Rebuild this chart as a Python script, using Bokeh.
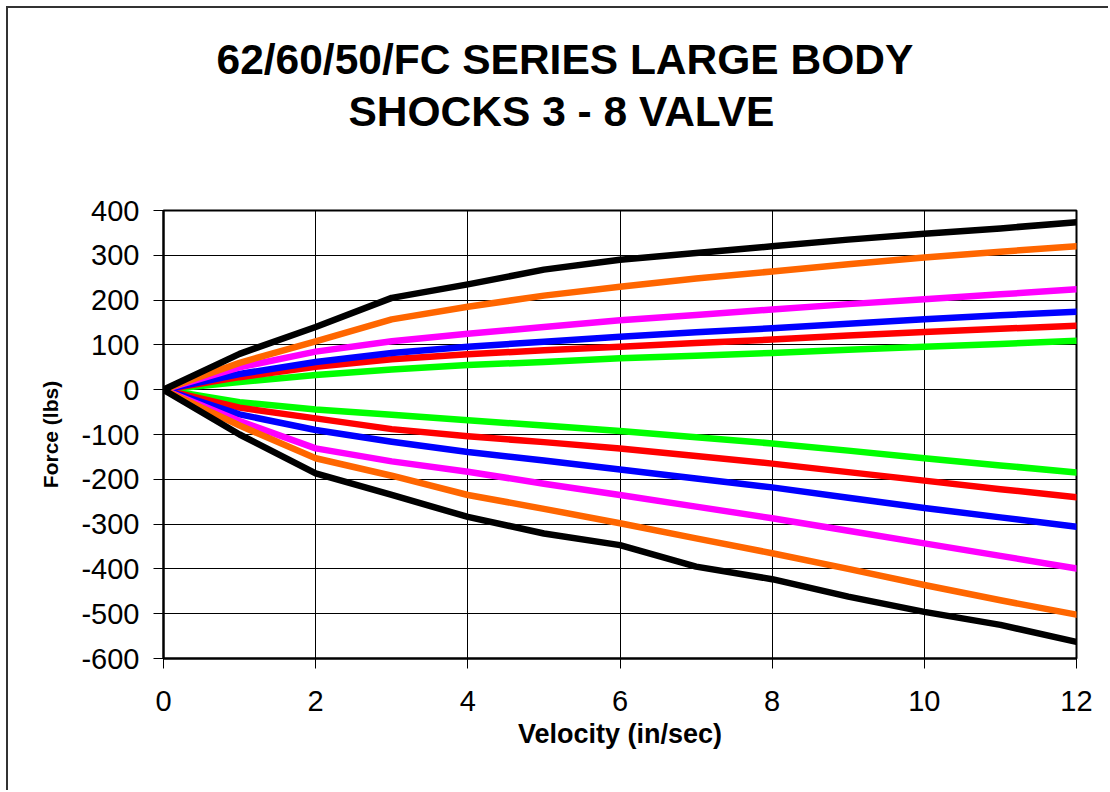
from bokeh.plotting import figure
from bokeh.models import Title, FixedTicker, Range1d
from bokeh.embed import file_html
from bokeh.resources import INLINE

velocity = [0, 1, 2, 3, 4, 5, 6, 7, 8, 9, 10, 11, 12]

# rebound (positive) curves
black_pos = [0, 80, 140, 205, 235, 268, 290, 305, 320, 335, 348, 360, 374]
orange_pos = [0, 60, 108, 157, 185, 210, 230, 248, 264, 280, 295, 308, 320]
magenta_pos = [0, 50, 85, 108, 125, 140, 155, 167, 179, 191, 202, 213, 224]
blue_pos = [0, 35, 62, 82, 96, 107, 118, 128, 137, 147, 157, 166, 174]
red_pos = [0, 28, 51, 68, 79, 88, 96, 104, 112, 121, 129, 136, 143]
green_pos = [0, 17, 33, 45, 55, 62, 70, 76, 82, 89, 96, 102, 109]

# compression (negative) curves
black_neg = [0, -100, -187, -235, -284, -321, -347, -395, -423, -462, -496, -525, -563]
orange_neg = [0, -80, -153, -192, -235, -266, -298, -332, -365, -400, -436, -470, -502]
magenta_neg = [0, -70, -131, -160, -183, -210, -235, -261, -287, -315, -343, -371, -399]
blue_neg = [0, -55, -90, -116, -139, -158, -178, -198, -218, -241, -264, -285, -306]
red_neg = [0, -40, -64, -88, -104, -117, -131, -148, -165, -184, -203, -222, -240]
green_neg = [0, -28, -44, -56, -68, -80, -92, -106, -120, -136, -153, -169, -185]

x_ticks = [0, 2, 4, 6, 8, 10, 12]
y_ticks = [-600, -500, -400, -300, -200, -100, 0, 100, 200, 300, 400]

title_line1 = "62/60/50/FC SERIES LARGE BODY"
title_line2 = "SHOCKS 3 - 8 VALVE"

p = figure(width=1102, height=784, output_backend="svg", toolbar_location=None,
           x_range=Range1d(0, 12), y_range=Range1d(-600, 400),
           min_border_left=155, min_border_right=34, min_border_top=202,
           min_border_bottom=134,
           styles={"margin-left": "6px", "margin-top": "6px",
                   "border-left": "2px solid #333333",
                   "border-top": "2px solid #333333"})

p.title.visible = False
p.add_layout(Title(text=title_line2, align="left", offset=185, text_font="Liberation Sans",
                   text_font_size="42.5px", text_font_style="bold", text_color="black",
                   standoff=152), "above")
p.add_layout(Title(text=title_line1, align="left", offset=53, text_font="Liberation Sans",
                   text_font_size="42.5px", text_font_style="bold", text_color="black",
                   standoff=-147), "above")

series = [
    (green_pos, green_neg, "#00FF00"),
    (red_pos, red_neg, "#FF0000"),
    (blue_pos, blue_neg, "#0000FF"),
    (magenta_pos, magenta_neg, "#FF00FF"),
    (orange_pos, orange_neg, "#FF6600"),
    (black_pos, black_neg, "#000000"),
]
for pos, neg, col in series:
    p.line(velocity, neg, line_color=col, line_width=6.5, line_join="round", line_cap="round")
    p.line(velocity, pos, line_color=col, line_width=6.5, line_join="round", line_cap="round")

p.xaxis.ticker = FixedTicker(ticks=x_ticks)
p.yaxis.ticker = FixedTicker(ticks=y_ticks)
p.yaxis.major_label_overrides = {t: str(t) for t in y_ticks}

for ax in (p.xaxis[0], p.yaxis[0]):
    ax.major_label_text_font = "Liberation Sans"
    ax.major_label_text_font_size = "29px"
    ax.major_label_text_color = "black"
    ax.axis_label_text_font = "Liberation Sans"
    ax.axis_label_text_font_style = "bold"
    ax.axis_label_text_color = "black"
    ax.axis_line_color = "black"
    ax.axis_line_width = 2
    ax.major_tick_line_color = "black"
    ax.major_tick_out = 10
    ax.major_tick_in = 0
    ax.minor_tick_line_color = None

p.xaxis.axis_label = "Velocity (in/sec)"
p.xaxis.axis_label_text_font_size = "27px"
p.xaxis.major_label_standoff = 22
p.xaxis.axis_label_standoff = 5

p.yaxis.axis_label = "Force (lbs)"
p.yaxis.axis_label_text_font_size = "21px"
p.yaxis.major_label_standoff = 14
p.yaxis.axis_label_standoff = 16

p.xgrid.ticker = FixedTicker(ticks=x_ticks)
p.ygrid.ticker = FixedTicker(ticks=y_ticks)
p.grid.grid_line_color = "black"
p.grid.grid_line_width = 1

p.outline_line_color = "black"
p.outline_line_width = 2
p.background_fill_color = "white"
p.border_fill_color = "white"

open("out.html", "w").write(file_html(p, INLINE))
